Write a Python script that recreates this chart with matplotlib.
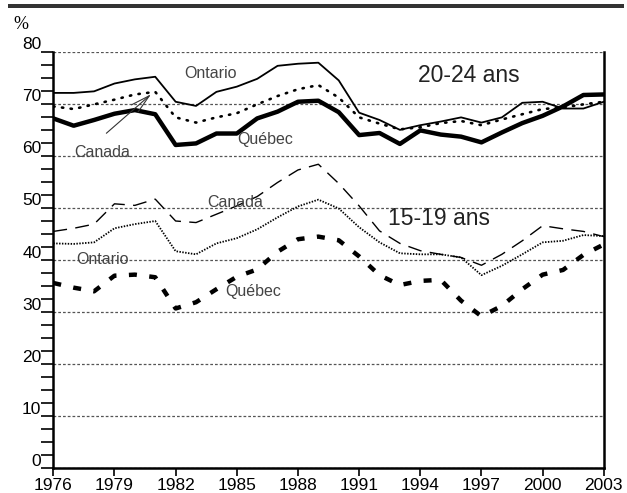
import numpy as np
import matplotlib
matplotlib.use("Agg")
import matplotlib.pyplot as plt
from matplotlib.patches import Rectangle
from matplotlib.transforms import ScaledTranslation

# Taux d'activité, 1976-2003
annees = np.arange(1976, 2004)

ont_20_24 = [72.1, 72.1, 72.4, 73.9, 74.7, 75.2, 70.4, 69.6, 72.3, 73.3,
             74.8, 77.3, 77.7, 77.9, 74.5, 68.3, 66.9, 65.0, 65.9, 66.6,
             67.4, 66.4, 67.4, 70.2, 70.4, 69.1, 69.1, 70.4]
can_20_24 = [69.5, 69.0, 69.9, 70.8, 71.8, 72.3, 67.4, 66.4, 67.4, 68.2,
             69.9, 71.5, 72.8, 73.6, 71.2, 67.4, 66.2, 65.1, 65.5, 66.3,
             66.7, 65.9, 67.0, 68.0, 69.0, 69.3, 69.9, 70.4]
que_20_24 = [67.2, 65.8, 66.9, 68.1, 68.8, 68.0, 62.1, 62.4, 64.3, 64.3,
             67.2, 68.5, 70.4, 70.6, 68.4, 64.0, 64.4, 62.3, 64.9, 64.1,
             63.7, 62.6, 64.5, 66.3, 67.7, 69.5, 71.7, 71.8]

can_15_19 = [45.5, 46.1, 46.9, 50.8, 50.5, 51.7, 47.5, 47.2, 48.8, 50.4,
             52.2, 54.9, 57.3, 58.4, 54.7, 50.4, 45.6, 43.2, 41.8, 41.1,
             40.5, 39.0, 41.1, 43.7, 46.6, 46.0, 45.5, 44.5]
ont_15_19 = [43.2, 43.1, 43.4, 46.1, 46.9, 47.5, 41.7, 41.1, 43.2, 44.2,
             45.9, 48.2, 50.3, 51.6, 49.9, 46.3, 43.4, 41.3, 41.1, 41.1,
             40.5, 37.1, 38.9, 41.1, 43.4, 43.7, 44.8, 44.6]
que_15_19 = [35.6, 34.7, 34.0, 37.0, 37.2, 36.7, 30.7, 31.9, 34.4, 36.8,
             38.2, 41.6, 44.0, 44.5, 43.8, 40.7, 37.1, 35.2, 36.0, 36.2,
             32.2, 29.2, 31.2, 34.4, 37.2, 38.1, 41.0, 43.0]

plt.rcParams['font.family'] = ['Liberation Sans', 'DejaVu Sans']

fig = plt.figure(figsize=(6.27, 4.93), dpi=100)
ax = fig.add_axes([0.085, 0.05, 0.878, 0.845])

# bande noire en haut
fig.add_artist(Rectangle((8/627, 1 - 8/493), 616/627, 4/493,
                         transform=fig.transFigure, color='#333333', lw=0))

# grille pointillée
for g in range(0, 81, 10):
    ax.axhline(g, color='#555555', lw=0.9, ls=(0, (2.2, 1.6)), zorder=1)

ax.plot(annees, ont_20_24, color='black', lw=1.3, zorder=3)
ax.plot(annees, can_20_24, color='black', lw=1.9, ls=(0, (0.5, 2.8)),
        dash_capstyle='round', zorder=3)
ax.plot(annees, que_20_24, color='black', lw=3.2, zorder=3)

ax.plot(annees, can_15_19, color='black', lw=1.0, ls=(0, (10, 6)), zorder=3)
ax.plot(annees, ont_15_19, color='black', lw=1.3, ls=(0, (0.8, 0.8)), zorder=3)
ax.plot(annees, que_15_19, color='black', lw=3.2, ls=(0, (1.8, 2.8)), zorder=3)

ax.set_xlim(1976, 2003)
ax.set_ylim(0, 80)
ax.set_xticks(range(1976, 2004, 3))
ax.set_yticks(range(0, 81, 10))
ax.set_yticks(np.arange(0, 80, 2.5), minor=True)

for s in ['left', 'right', 'bottom']:
    ax.spines[s].set_linewidth(1.8)
ax.spines['top'].set_visible(False)

ax.tick_params(axis='y', which='both', direction='out', length=8.5, width=1.2,
               pad=0, labelsize=12.5)
ax.tick_params(axis='x', which='major', direction='out', length=6, width=1.2,
               pad=1, labelsize=12.5)
off = ScaledTranslation(0, 0.085, fig.dpi_scale_trans)
for lab in ax.get_yticklabels():
    lab.set_transform(lab.get_transform() + off)

fig.text(0.021, 0.942, '%', fontsize=13, family='Liberation Serif')

gris = '#444444'
ax.text(1983.7, 75.9, 'Ontario', fontsize=11.5, color=gris, ha='center', va='center')
ax.text(1978.4, 60.6, 'Canada', fontsize=11.5, color=gris, ha='center', va='center')
ax.text(1986.4, 63.1, 'Québec', fontsize=11.5, color=gris, ha='center', va='center')
ax.text(1996.4, 75.4, '20-24 ans', fontsize=16.5, color='#222222', ha='center', va='center')
ax.text(1984.9, 51.0, 'Canada', fontsize=11.5, color=gris, ha='center', va='center')
ax.text(1994.9, 48.0, '15-19 ans', fontsize=16.5, color='#222222', ha='center', va='center')
ax.text(1978.4, 40.1, 'Ontario', fontsize=11.5, color=gris, ha='center', va='center')
ax.text(1985.8, 33.9, 'Québec', fontsize=11.5, color=gris, ha='center', va='center')

ax.annotate('', xy=(1980.9, 72.2), xytext=(1978.5, 64.0),
            arrowprops=dict(arrowstyle='->,head_length=1.4,head_width=0.35',
                            color='#333333', lw=0.8))

fig.savefig('out.png', dpi=100)
